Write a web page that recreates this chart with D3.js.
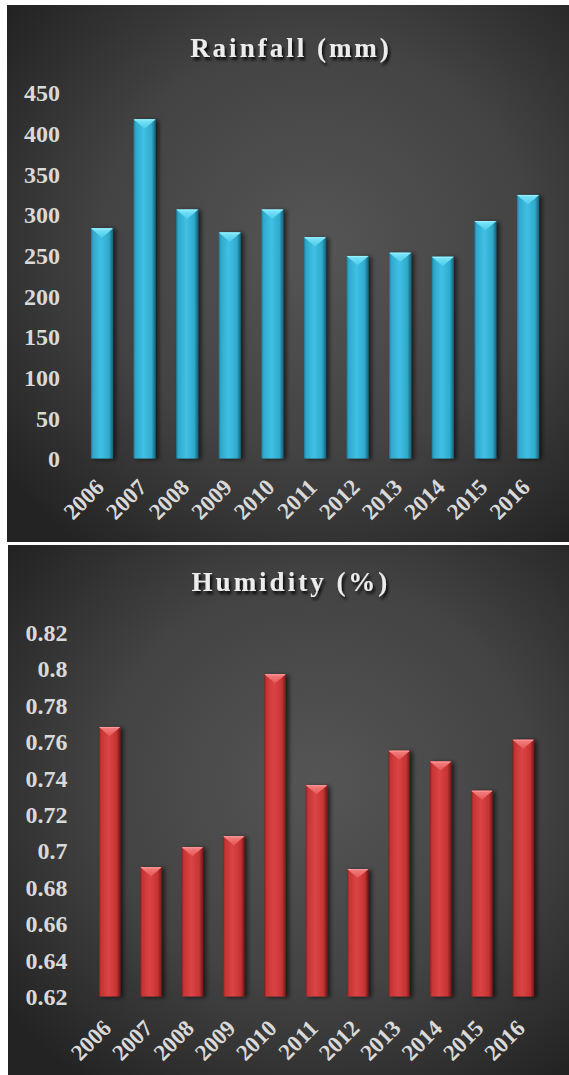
<!DOCTYPE html>
<html>
<head>
<meta charset="utf-8">
<script src="https://cdn.jsdelivr.net/npm/d3@7"></script>
<style>
  html, body { margin: 0; padding: 0; background: #ffffff; }
  svg { display: block; }
  .lbl { font-family: "Liberation Serif", "Times New Roman", serif; font-weight: bold; }
</style>
</head>
<body>
<script>
// ---- data ----
const years = ["2006", "2007", "2008", "2009", "2010", "2011", "2012", "2013", "2014", "2015", "2016"];
const rainfall = [283, 417, 306, 278, 306, 272, 249, 253, 248, 292, 324];
const humidity = [0.768, 0.691, 0.702, 0.708, 0.797, 0.736, 0.690, 0.755, 0.749, 0.733, 0.761];
const rainTicks = [0, 50, 100, 150, 200, 250, 300, 350, 400, 450];
const humidityTicks = [0.62, 0.64, 0.66, 0.68, 0.70, 0.72, 0.74, 0.76, 0.78, 0.80, 0.82];
const rainTitle = "Rainfall (mm)";
const humidityTitle = "Humidity (%)";

const W = 569, H = 1075;

const svg = d3.select("body").append("svg")
  .attr("width", W).attr("height", H)
  .attr("viewBox", `0 0 ${W} ${H}`);

const defs = svg.append("defs");

// panel background: soft radial light in the middle, dark corners
const bg = defs.append("radialGradient").attr("id", "panelBg")
  .attr("cx", "55%").attr("cy", "45%").attr("r", "70%");
bg.append("stop").attr("offset", "0%").attr("stop-color", "#555555");
bg.append("stop").attr("offset", "55%").attr("stop-color", "#434343");
bg.append("stop").attr("offset", "100%").attr("stop-color", "#232323");

// bar body shading (left-to-right bevel look)
function barGradient(id, stops) {
  const g = defs.append("linearGradient").attr("id", id)
    .attr("x1", "0%").attr("x2", "100%").attr("y1", "0%").attr("y2", "0%");
  stops.forEach(([o, c]) => g.append("stop").attr("offset", o).attr("stop-color", c));
}
barGradient("cyanBody", [["0%", "#1d7893"], ["10%", "#2ea9cc"], ["45%", "#40c0e3"], ["82%", "#2fa9cc"], ["100%", "#175f76"]]);
barGradient("redBody", [["0%", "#8a1e1e"], ["10%", "#c63434"], ["45%", "#db4444"], ["82%", "#c53333"], ["100%", "#731616"]]);

const capCyan = defs.append("linearGradient").attr("id", "cyanCap")
  .attr("x1", "0%").attr("x2", "0%").attr("y1", "0%").attr("y2", "100%");
capCyan.append("stop").attr("offset", "0%").attr("stop-color", "#7fe6fa");
capCyan.append("stop").attr("offset", "100%").attr("stop-color", "#4ccbe8");
const capRed = defs.append("linearGradient").attr("id", "redCap")
  .attr("x1", "0%").attr("x2", "0%").attr("y1", "0%").attr("y2", "100%");
capRed.append("stop").attr("offset", "0%").attr("stop-color", "#f58080");
capRed.append("stop").attr("offset", "100%").attr("stop-color", "#e45858");

// shadows
const barShadow = defs.append("filter").attr("id", "barShadow")
  .attr("x", "-30%").attr("y", "-10%").attr("width", "180%").attr("height", "130%");
barShadow.append("feDropShadow").attr("dx", 3).attr("dy", 1).attr("stdDeviation", 2.2)
  .attr("flood-color", "#000").attr("flood-opacity", 0.6);

const titleShadow = defs.append("filter").attr("id", "titleShadow")
  .attr("x", "-10%").attr("y", "-30%").attr("width", "130%").attr("height", "170%");
titleShadow.append("feDropShadow").attr("dx", 2).attr("dy", 3).attr("stdDeviation", 1.6)
  .attr("flood-color", "#000").attr("flood-opacity", 0.85);

const lineShadow = defs.append("filter").attr("id", "lineShadow")
  .attr("x", "-5%").attr("y", "-200%").attr("width", "110%").attr("height", "500%");
lineShadow.append("feDropShadow").attr("dx", 0).attr("dy", 2).attr("stdDeviation", 1.5)
  .attr("flood-color", "#000").attr("flood-opacity", 0.7);

function drawPanel(cfg) {
  const g = svg.append("g");

  g.append("rect")
    .attr("x", cfg.panel.x).attr("y", cfg.panel.y)
    .attr("width", cfg.panel.w).attr("height", cfg.panel.h)
    .attr("fill", "url(#panelBg)");

  // title
  g.append("text").attr("class", "lbl")
    .attr("x", cfg.titleX).attr("y", cfg.titleY)
    .attr("text-anchor", "middle")
    .style("font-size", "27px").style("letter-spacing", "3px")
    .attr("fill", "#ececec")
    .attr("filter", "url(#titleShadow)")
    .text(cfg.title);

  const x = d3.scaleBand().domain(years)
    .range([cfg.x0, cfg.x1]).paddingInner(0.48).paddingOuter(0.24);
  const y = d3.scaleLinear().domain(cfg.domain).range([cfg.yBase, cfg.yTop]);

  // y axis labels
  const yAxis = g.append("g")
    .attr("transform", `translate(${cfg.yLabelX},0)`)
    .call(d3.axisLeft(y).tickValues(cfg.ticks).tickSize(0).tickPadding(0).tickFormat(cfg.fmt));
  yAxis.select(".domain").remove();
  yAxis.selectAll("text").attr("class", "lbl")
    .style("font-size", "24px")
    .attr("fill", "#d9d9d9").attr("dy", "0.34em");

  // bars
  const bars = g.append("g").selectAll("g.bar").data(cfg.values).join("g")
    .attr("class", "bar").attr("filter", "url(#barShadow)");
  const bw = x.bandwidth();
  bars.append("rect")
    .attr("x", (d, i) => x(years[i]))
    .attr("y", d => y(d))
    .attr("width", bw)
    .attr("height", d => cfg.yBase - y(d))
    .attr("fill", `url(#${cfg.body})`);
  // bevelled top face
  bars.append("path")
    .attr("d", (d, i) => {
      const x0 = x(years[i]), yt = y(d);
      return `M${x0},${yt}L${x0 + bw},${yt}L${x0 + bw / 2},${yt + bw * 0.42}Z`;
    })
    .attr("fill", `url(#${cfg.cap})`);
  bars.append("line")
    .attr("x1", (d, i) => x(years[i]) + 1).attr("x2", (d, i) => x(years[i]) + bw - 1)
    .attr("y1", d => y(d) + 0.5).attr("y2", d => y(d) + 0.5)
    .attr("stroke", cfg.capEdge).attr("stroke-width", 1);

  // baseline
  g.append("line")
    .attr("x1", cfg.x0).attr("x2", cfg.x1)
    .attr("y1", cfg.yBase).attr("y2", cfg.yBase)
    .attr("stroke", "#a3a3a3").attr("stroke-width", 2.5)
    .attr("filter", "url(#lineShadow)");

  // x axis labels, rotated
  const xAxis = g.append("g")
    .attr("transform", `translate(0,${cfg.yBase})`)
    .call(d3.axisBottom(x).tickSize(0).tickPadding(0));
  xAxis.select(".domain").remove();
  xAxis.selectAll("text").attr("class", "lbl")
    .style("font-size", "23px")
    .attr("fill", "#d9d9d9")
    .attr("text-anchor", "end")
    .attr("dy", 0)
    .attr("transform", `translate(${cfg.labelDx},${cfg.labelDy}) rotate(-45)`);
}

drawPanel({
  panel: { x: 7, y: 5, w: W - 7, h: 537 },
  title: rainTitle, titleX: 291, titleY: 57,
  x0: 80.7, x1: 549.3, yBase: 458.5, yTop: 92.5,
  domain: [0, 450], ticks: rainTicks, fmt: d3.format("d"),
  yLabelX: 60, values: rainfall,
  body: "cyanBody", cap: "cyanCap", capEdge: "#9af0ff",
  labelDx: 3.5, labelDy: 30
});

drawPanel({
  panel: { x: 8, y: 545, w: W - 8, h: 530 },
  title: humidityTitle, titleX: 291, titleY: 591,
  x0: 89, x1: 544, yBase: 996.5, yTop: 632.3,
  domain: [0.62, 0.82], ticks: humidityTicks, fmt: d => String(+d.toFixed(2)),
  yLabelX: 67.5, values: humidity,
  body: "redBody", cap: "redCap", capEdge: "#ff9a9a",
  labelDx: 3, labelDy: 33
});
</script>
</body>
</html>
